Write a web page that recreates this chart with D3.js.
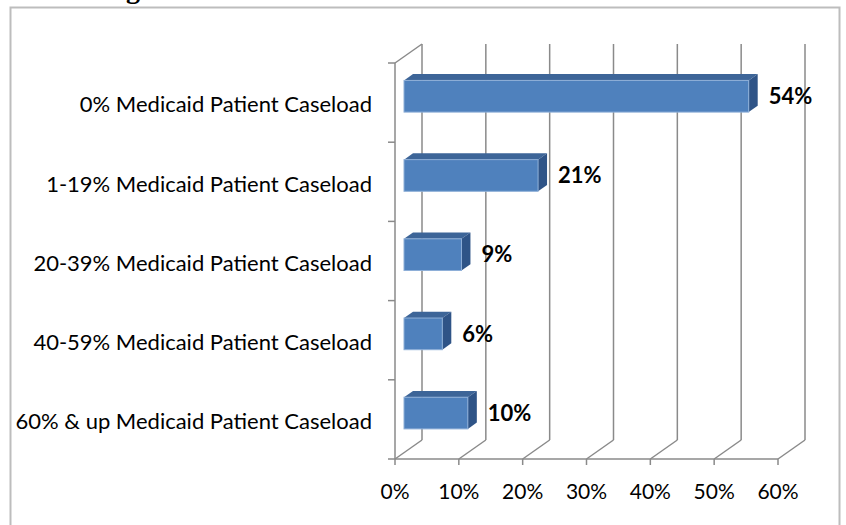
<!DOCTYPE html>
<html>
<head>
<meta charset="utf-8">
<script src="https://cdn.jsdelivr.net/npm/d3@7.9.0/dist/d3.min.js"></script>
<style>
  html, body { margin: 0; padding: 0; background: #fff; }
  svg { display: block; }
  text { font-family: Lato, "Open Sans", sans-serif; fill: #000; }
</style>
</head>
<body>
<svg id="chart" width="846" height="525"></svg>
<script>
const categories = [
  '0% Medicaid Patient Caseload',
  '1-19% Medicaid Patient Caseload',
  '20-39% Medicaid Patient Caseload',
  '40-59% Medicaid Patient Caseload',
  '60% & up Medicaid Patient Caseload'
];
const values = [0.54, 0.21, 0.09, 0.06, 0.10];
const ticks = [0, 0.1, 0.2, 0.3, 0.4, 0.5, 0.6];

const svg = d3.select('#chart');

// cut-off heading above the chart box
svg.append('text')
  .attr('x', 126).attr('y', -2)
  .style('font-family', '"Liberation Serif", serif')
  .style('font-weight', 'bold')
  .style('font-size', '28px')
  .text('g');

// chart box
svg.append('rect')
  .attr('x', 10.5).attr('y', 7.5)
  .attr('width', 829).attr('height', 530)
  .attr('fill', 'none')
  .attr('stroke', '#bdbdbd')
  .attr('stroke-width', 2);

// 3d depth offset of the back wall
const dx = 27, dy = -19;

const x = d3.scaleLinear().domain([0, 0.6]).range([395, 778]);
const y = d3.scaleBand().domain(categories).range([63, 459])
  .paddingInner(0.6).paddingOuter(0.3);
const step = y.step();

const grid = svg.append('g')
  .attr('stroke', '#8a8a8a')
  .attr('stroke-width', 1.5)
  .attr('fill', 'none');

// back wall gridlines
grid.selectAll('line.back')
  .data(ticks)
  .join('line')
  .attr('class', 'back')
  .attr('x1', d => x(d) + dx).attr('x2', d => x(d) + dx)
  .attr('y1', 63 + dy).attr('y2', 459 + dy);

// floor diagonals
grid.selectAll('line.floor')
  .data(ticks)
  .join('line')
  .attr('class', 'floor')
  .attr('x1', d => x(d)).attr('y1', 459)
  .attr('x2', d => x(d) + dx).attr('y2', 459 + dy);

// left wall top edge
grid.append('line')
  .attr('x1', x(0)).attr('y1', 63)
  .attr('x2', x(0) + dx).attr('y2', 63 + dy);

// front axes
grid.append('line')
  .attr('x1', x(0)).attr('x2', x(0))
  .attr('y1', 63).attr('y2', 459);
grid.append('line')
  .attr('x1', x(0)).attr('x2', x(0.6))
  .attr('y1', 459).attr('y2', 459);

// category ticks on the left axis
grid.selectAll('line.ytick')
  .data(d3.range(categories.length + 1))
  .join('line')
  .attr('class', 'ytick')
  .attr('x1', x(0) - 7).attr('x2', x(0))
  .attr('y1', i => 63 + i * step).attr('y2', i => 63 + i * step);

// value ticks on the floor
grid.selectAll('line.xtick')
  .data(ticks)
  .join('line')
  .attr('class', 'xtick')
  .attr('x1', d => x(d)).attr('x2', d => x(d))
  .attr('y1', 459).attr('y2', 465);

// bars (front face sits one third into the depth, back face two thirds)
const f0 = 1 / 3, f1 = 2 / 3;
const bars = svg.append('g');
categories.forEach((c, i) => {
  const v = values[i];
  const x0 = x(0) + dx * f0, x1 = x(v) + dx * f0;
  const y0 = y(c) + dy * f0, y1 = y0 + y.bandwidth();
  const ox = dx * (f1 - f0), oy = dy * (f1 - f0);
  // top face
  bars.append('path')
    .attr('d', `M${x0},${y0}L${x0 + ox},${y0 + oy}L${x1 + ox},${y0 + oy}L${x1},${y0}Z`)
    .attr('fill', '#3d6598');
  // side face
  bars.append('path')
    .attr('d', `M${x1},${y0}L${x1 + ox},${y0 + oy}L${x1 + ox},${y1 + oy}L${x1},${y1}Z`)
    .attr('fill', '#2f5487');
  // front face
  bars.append('rect')
    .attr('x', x0).attr('y', y0)
    .attr('width', x1 - x0).attr('height', y1 - y0)
    .attr('fill', '#4f81bd')
    .attr('stroke', '#8eafd8')
    .attr('stroke-width', 1);
});

// value labels
svg.append('g').selectAll('text')
  .data(categories)
  .join('text')
  .attr('x', (c, i) => x(values[i]) + dx * f0 + 20)
  .attr('y', c => y(c) + dy * f0 + y.bandwidth() / 2)
  .attr('dy', '0.35em')
  .style('font-weight', 'bold')
  .style('font-size', '22px')
  .text((c, i) => Math.round(values[i] * 100) + '%');

// category labels
svg.append('g').selectAll('text')
  .data(categories)
  .join('text')
  .attr('x', 372)
  .attr('y', c => y(c) + y.bandwidth() / 2 + 2)
  .attr('dy', '0.35em')
  .attr('text-anchor', 'end')
  .style('font-size', '22px')
  .text(c => c);

// tick labels
svg.append('g').selectAll('text')
  .data(ticks)
  .join('text')
  .attr('x', d => x(d))
  .attr('y', 492)
  .attr('dy', '0.35em')
  .attr('text-anchor', 'middle')
  .style('font-size', '21px')
  .text(d => d3.format('.0%')(d));
</script>
</body>
</html>
